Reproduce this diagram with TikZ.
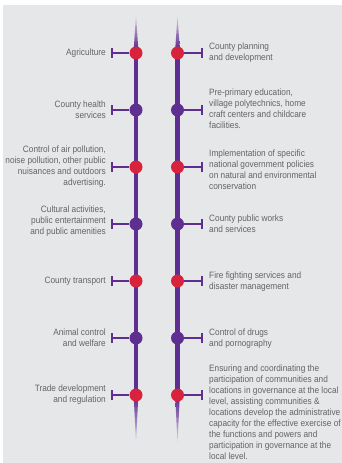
\documentclass[tikz,border=0pt]{standalone}
\usepackage{fontspec}
\setmainfont{Liberation Sans}[FakeStretch=0.9]
\definecolor{bgc}{HTML}{E6E7E8}
\definecolor{myred}{HTML}{D7233B}
\definecolor{mypurple}{HTML}{5E2E91}
\definecolor{txtc}{HTML}{646466}
\begin{document}
\begin{tikzpicture}[x=1pt,y=-1pt,
  dot/.style={circle,inner sep=0pt,minimum size=13pt},
  conn/.style={draw=mypurple,line width=1.9pt},
  tbar/.style={draw=mypurple,line width=2pt},
  lbl/.style={inner sep=0pt,text=txtc,font=\fontsize{9.2}{10.95}\selectfont},
  ltxt/.style={lbl,anchor=east,align=right},
  rtxt/.style={lbl,anchor=west,align=left}]
\useasboundingbox (0,0) rectangle (342,463);
\fill[white] (0,0) rectangle (342,463);
\fill[bgc] (3,5) rectangle (342,463);
% spines
\foreach \sx in {136,177.5}{
  \shade[top color=mypurple!20,bottom color=mypurple] (\sx,15) -- (\sx+2.2,48) -- (\sx-2.2,48) -- cycle;
  \fill[mypurple] (\sx-2.2,47.5) rectangle (\sx+2.2,398.5);
  \shade[top color=mypurple,bottom color=mypurple!20] (\sx-2.2,398) -- (\sx+2.2,398) -- (\sx,443) -- cycle;
}
% dots, connectors, bars
\foreach \i/\c in {1/myred,2/mypurple,3/myred,4/mypurple,5/myred,6/mypurple,7/myred}{
  \coordinate (LB\i) at (112,{53+57*(\i-1)});
  \coordinate (RB\i) at (201.5,{53+57*(\i-1)});
  \node[dot,fill=\c] (L\i) at (136,{53+57*(\i-1)}) {};
  \node[dot,fill=\c] (R\i) at (177.5,{53+57*(\i-1)}) {};
  \draw[conn] (L\i) -- (LB\i);
  \draw[conn] (R\i) -- (RB\i);
  \draw[tbar] ([yshift=5pt]LB\i) -- ([yshift=-5pt]LB\i);
  \draw[tbar] ([yshift=5pt]RB\i) -- ([yshift=-5pt]RB\i);
}
% left texts
\node[ltxt] (t1) at (106,52.7) {Agriculture};
\node[ltxt] (t2) at (106,110) {County health\\services};
\node[ltxt] (t3) at (106,166.3) {Control of air pollution,\\noise pollution, other public\\nuisances and outdoors\\advertising.};
\node[ltxt] (t4) at (106,221.3) {Cultural activities,\\public entertainment\\and public amenities};
\node[ltxt] (t5) at (106,281) {County transport};
\node[ltxt] (t6) at (106,338) {Animal control\\and welfare};
\node[ltxt] (t7) at (106,394.5) {Trade development\\and regulation};
% right texts
\node[rtxt] (u1) at (209,52.2) {County planning\\and development};
\node[rtxt] (u2) at (209,108.9) {Pre-primary education,\\village polytechnics, home\\craft centers and childcare\\facilities.};
\node[rtxt] (u3) at (209,169.7) {Implementation of specific\\national government policies\\on natural and environmental\\conservation};
\node[rtxt] (u4) at (209,223.7) {County public works\\and services};
\node[rtxt] (u5) at (209,281.2) {Fire fighting services and\\disaster management};
\node[rtxt] (u6) at (209,338.2) {Control of drugs\\and pornography};
\node[rtxt] (u7) at (209,412.5) {Ensuring and coordinating the\\participation of communities and\\locations in governance at the local\\level, assisting communities \&\\locations develop the administrative\\capacity for the effective exercise of\\the functions and powers and\\participation in governance at the\\local level.};
\end{tikzpicture}
\end{document}
